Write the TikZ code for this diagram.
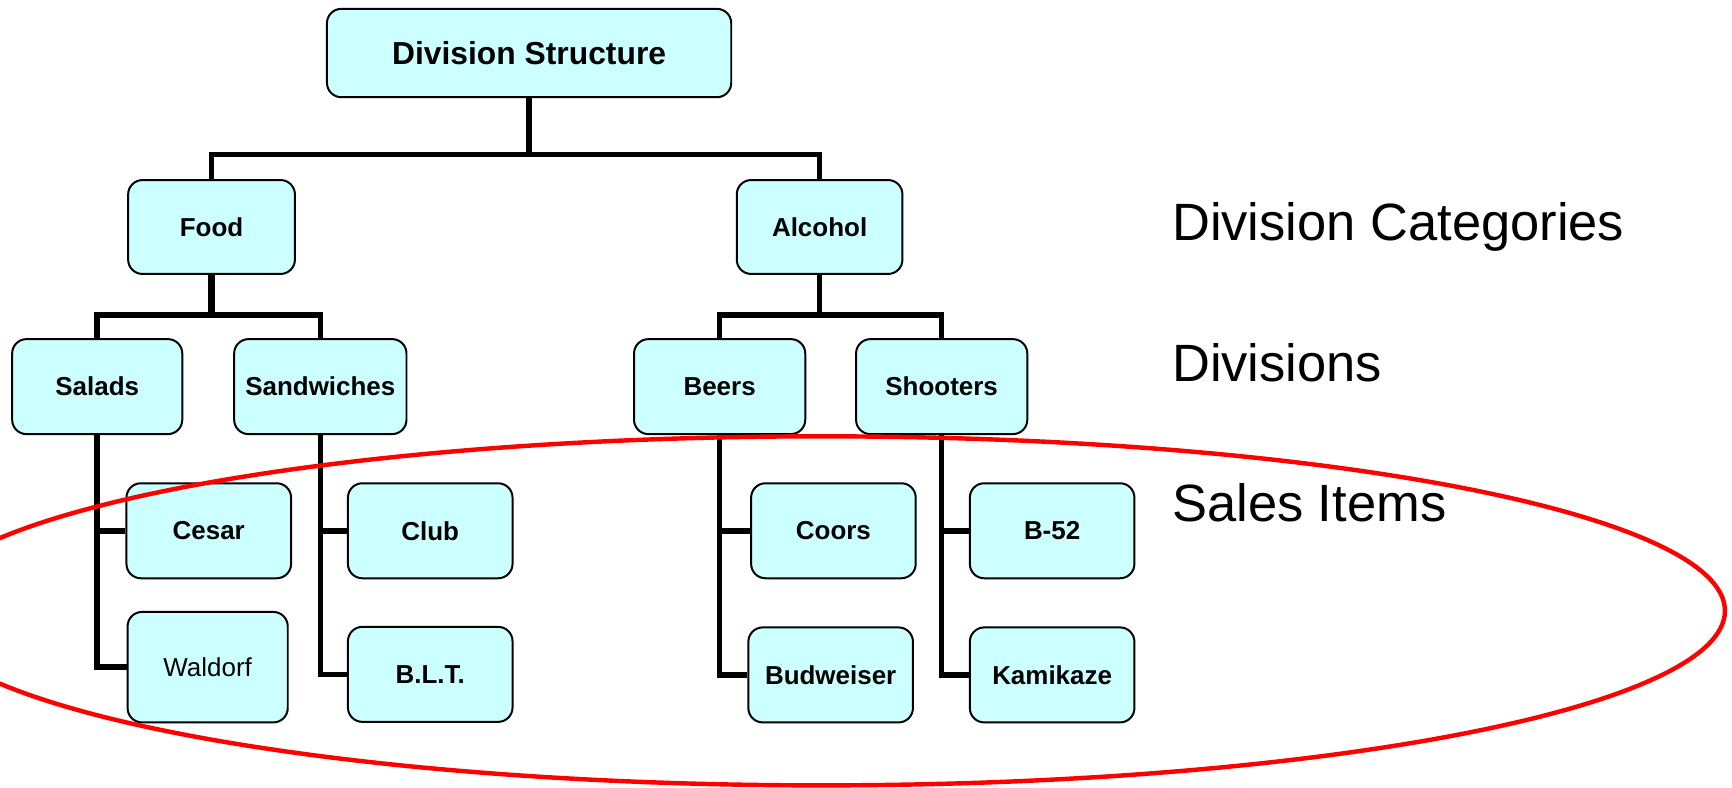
\documentclass[tikz,border=0pt]{standalone}
\usepackage{fontspec}
\setmainfont{Liberation Sans}
\usetikzlibrary{backgrounds}
\definecolor{boxfill}{HTML}{CCFFFF}
\definecolor{ringred}{HTML}{FF0000}
\begin{document}
\begin{tikzpicture}[x=1pt,y=-1pt,
  box/.style={draw=black, line width=1.8pt, fill=boxfill, rounded corners=13pt,
    inner sep=0pt, align=center, font=\bfseries\fontsize{23.5}{28}\selectfont},
  itembox/.style={box, minimum width=149pt, minimum height=86pt},
  conn/.style={line width=5pt, line join=miter},
  stem/.style={line width=7pt},
  label/.style={anchor=base west, inner sep=0pt, font=\fontsize{47.5}{56}\selectfont}]
\useasboundingbox (0,0) rectangle (1568,713);
\clip (0,0) rectangle (1568,713);

% boxes
\node[box, minimum width=366pt, minimum height=80pt, font=\bfseries\fontsize{28.8}{34}\selectfont] (ds) at (479,48) {Division Structure};
\node[box, minimum width=151pt, minimum height=85pt] (food) at (191.5,205.5) {Food};
\node[box, minimum width=150pt, minimum height=85pt] (alcohol) at (742,205.5) {Alcohol};
\node[box, minimum width=154pt, minimum height=86pt] (salads) at (88,350) {Salads};
\node[box, minimum width=156pt, minimum height=86pt] (sandwiches) at (290,350) {Sandwiches};
\node[box, minimum width=155pt, minimum height=86pt] (beers) at (651.5,350) {Beers};
\node[box, minimum width=155pt, minimum height=86pt] (shooters) at (852.5,350) {Shooters};
\node[itembox] (cesar) at (189,480.5) {Cesar};
\node[itembox, minimum width=145pt, minimum height=100pt, font=\fontsize{23.5}{28}\selectfont] (waldorf) at (188,604) {Waldorf};
\node[itembox] (club) at (389.5,480.5) {Club};
\node[itembox] (blt) at (389.5,610.5) {B.L.T.};
\node[itembox] (coors) at (754.5,480.5) {Coors};
\node[itembox] (budweiser) at (752,611) {Budweiser};
\node[itembox] (b52) at (952.5,480.5) {B-52};
\node[itembox] (kamikaze) at (952.5,611) {Kamikaze};

% level coordinates
\coordinate (lvone) at (0,140);
\coordinate (lvtwo) at (0,285);

% connectors, behind the boxes
\begin{scope}[on background layer]
\draw[conn] (ds.south) -- (ds.south |- lvone);
\draw[conn] (food.north) |- (alcohol.north |- lvone) -- (alcohol.north);
\draw[conn,stem] (food.south) -- ([yshift=2pt]food.south |- lvtwo);
\draw[conn] (salads.north) |- (sandwiches.north |- lvtwo) -- (sandwiches.north);
\draw[conn] (alcohol.south) -- (alcohol.south |- lvtwo);
\draw[conn] (beers.north) |- (shooters.north |- lvtwo) -- (shooters.north);

\draw[conn] (salads.south) |- (waldorf.west);
\draw[conn] (salads.south |- cesar.west) -- (cesar.west);
\draw[conn] (sandwiches.south) |- (blt.west);
\draw[conn] (sandwiches.south |- club.west) -- (club.west);
\draw[conn] (beers.south) |- (budweiser.west);
\draw[conn] (beers.south |- coors.west) -- (coors.west);
\draw[conn] (shooters.south) |- (kamikaze.west);
\draw[conn] (shooters.south |- b52.west) -- (b52.west);
\end{scope}

% level labels
\node[label] (lcat) at (1061,218) {Division Categories};
\node[label] (ldiv) at (1061,345.5) {Divisions};
\node[label] (lsales) at (1061,472.5) {Sales Items};

% red ellipse
\draw[ringred, line width=4pt] (743.6,553) ellipse [x radius=818, y radius=158];
\end{tikzpicture}
\end{document}
